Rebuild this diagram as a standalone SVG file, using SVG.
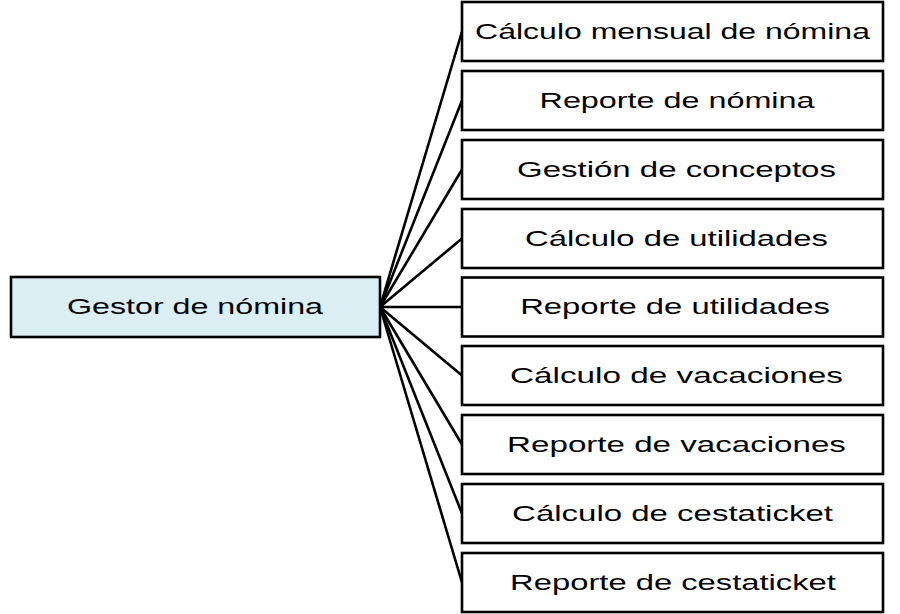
<svg xmlns="http://www.w3.org/2000/svg" width="900" height="614" viewBox="0 0 900 614">
<style>
.box{fill:#ffffff;stroke:#000000;stroke-width:2.6}
.root{fill:#dbeef4;stroke:#000000;stroke-width:2.6}
.lbl{font-family:"Liberation Sans",Arial,sans-serif;font-size:22px;fill:#000000;text-anchor:middle}
.conn line{stroke:#000000;stroke-width:2.6}
</style>
<rect width="900" height="614" fill="#ffffff"/>
<g id="connectors" class="conn">
<line x1="380" y1="307" x2="462" y2="31.5"/>
<line x1="380" y1="307" x2="462" y2="100.5"/>
<line x1="380" y1="307" x2="462" y2="169.5"/>
<line x1="380" y1="307" x2="462" y2="238.5"/>
<line x1="380" y1="307" x2="462" y2="307"/>
<line x1="380" y1="307" x2="462" y2="375.5"/>
<line x1="380" y1="307" x2="462" y2="444.5"/>
<line x1="380" y1="307" x2="462" y2="513.5"/>
<line x1="380" y1="307" x2="462" y2="582.5"/>
</g>
<g id="gestor">
<rect class="root" x="11" y="277" width="369" height="60"/>
<text class="lbl" transform="translate(195 313.5) scale(1.464 1)">Gestor de nómina</text>
</g>
<g id="n1">
<rect class="box" x="462" y="2" width="421" height="59"/>
<text class="lbl" transform="translate(672.5 38.5) scale(1.455 1)">Cálculo mensual de nómina</text>
</g>
<g id="n2">
<rect class="box" x="462" y="71" width="421" height="59"/>
<text class="lbl" transform="translate(677 107.5) scale(1.47 1)">Reporte de nómina</text>
</g>
<g id="n3">
<rect class="box" x="462" y="140" width="421" height="59"/>
<text class="lbl" transform="translate(676.5 176.5) scale(1.499 1)">Gestión de conceptos</text>
</g>
<g id="n4">
<rect class="box" x="462" y="209" width="421" height="59"/>
<text class="lbl" transform="translate(676.5 245.5) scale(1.493 1)">Cálculo de utilidades</text>
</g>
<g id="n5">
<rect class="box" x="462" y="277.5" width="421" height="59"/>
<text class="lbl" transform="translate(675 314) scale(1.491 1)">Reporte de utilidades</text>
</g>
<g id="n6">
<rect class="box" x="462" y="346" width="421" height="59"/>
<text class="lbl" transform="translate(676.5 382.5) scale(1.513 1)">Cálculo de vacaciones</text>
</g>
<g id="n7">
<rect class="box" x="462" y="415" width="421" height="59"/>
<text class="lbl" transform="translate(676.5 451.5) scale(1.506 1)">Reporte de vacaciones</text>
</g>
<g id="n8">
<rect class="box" x="462" y="484" width="421" height="59"/>
<text class="lbl" transform="translate(672.5 520.5) scale(1.5 1)">Cálculo de cestaticket</text>
</g>
<g id="n9">
<rect class="box" x="462" y="553" width="421" height="59"/>
<text class="lbl" transform="translate(673 589.5) scale(1.489 1)">Reporte de cestaticket</text>
</g>
</svg>
